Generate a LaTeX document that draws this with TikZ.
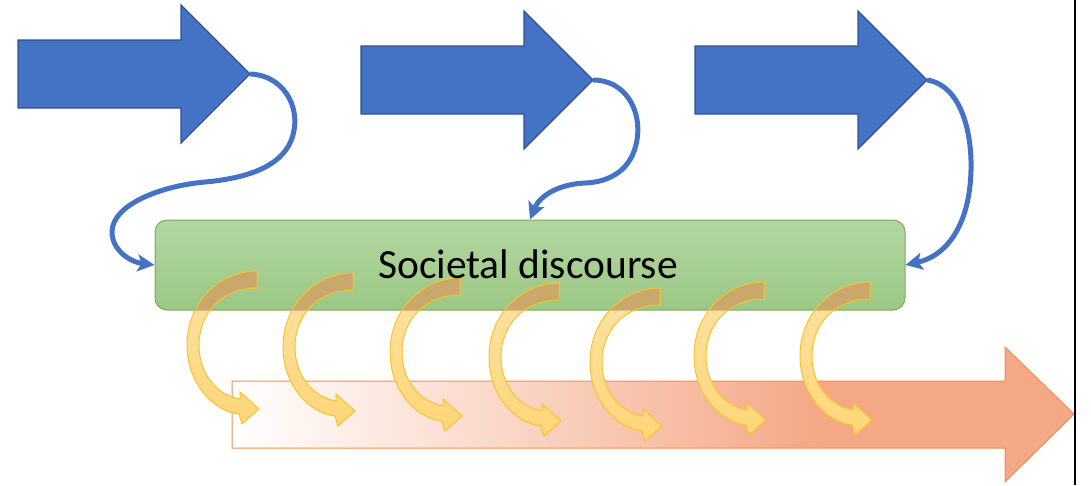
\documentclass[tikz,border=0pt]{standalone}
\usepackage{fontspec}
\setmainfont{Carlito}
\usetikzlibrary{arrows.meta}

\definecolor{bluefill}{HTML}{4472C4}
\definecolor{blueline}{HTML}{2F528F}
\definecolor{greentop}{HTML}{B3D6A1}
\definecolor{greenbot}{HTML}{9BC885}
\definecolor{greenline}{HTML}{7AAD57}
\definecolor{orangefill}{HTML}{F4A886}
\definecolor{orangeline}{HTML}{EF8E58}
\definecolor{ytan}{HTML}{CAA86C}
\definecolor{ylight}{HTML}{FFE3A6}
\definecolor{ydeep}{HTML}{FFD678}
\definecolor{yline}{HTML}{F8C22E}

% white on the left, full orange from about three quarters of the way
\pgfdeclarehorizontalshading{orangefade}{100bp}{color(0bp)=(white); color(25bp)=(white); color(60bp)=(orangefill); color(100bp)=(orangefill)}

% curved yellow arrow, origin at the upper corner of its tail
\def\bendarrow{(0,0) .. controls (-38,0) and (-70,32) .. (-70,74)
  .. controls (-70,111) and (-45,140) .. (-18,143)
  -- (-15,153) -- (2,138) -- (-17,121) -- (-17,128)
  .. controls (-40,124) and (-58,103) .. (-58,74)
  .. controls (-58,42) and (-35,17) .. (0,17) -- cycle}

\tikzset{
  bluearrow/.style={fill=bluefill, draw=blueline, line width=1.2pt, line join=miter},
  conn/.style={draw=bluefill, line width=5pt,
    -{Stealth[length=17pt, width=17pt, inset=4pt]}},
  discbox/.style={rounded corners=12pt, minimum width=750pt, minimum height=90pt,
    top color=greentop, bottom color=greenbot, draw=greenline, line width=1pt}
}

\begin{document}
\begin{tikzpicture}[x=1pt, y=-1pt]
\useasboundingbox (0,0) rectangle (1091,485);

% progress arrow along the bottom
\shadedraw[shading=orangefade, draw=orangeline, line width=1pt]
  (232,381) -- (1005,381) -- (1005,347) -- (1074,414) -- (1005,482)
  -- (1005,448) -- (232,448) -- cycle;

% three input arrows
\coordinate (tipA) at (250,74);
\coordinate (tipB) at (593,80);
\coordinate (tipC) at (927,80);
\draw[bluearrow] (18,40) -- (181,40) -- (181,5) -- (tipA) -- (181,143) -- (181,108) -- (18,108) -- cycle;
\draw[bluearrow] (361,46) -- (524,46) -- (524,11) -- (tipB) -- (524,149) -- (524,114) -- (361,114) -- cycle;
\draw[bluearrow] (695,46) -- (858,46) -- (858,11) -- (tipC) -- (858,149) -- (858,114) -- (695,114) -- cycle;

% societal discourse box
\node[discbox] (disc) at (530,265) {};

% curved arrows from the discourse down into the progress arrow
\foreach \dx/\dy in {257/271, 353/273, 460/278, 559/283, 660/288, 764/282, 870/282}{
  \begin{scope}[shift={(\dx,\dy)}]
    \path[top color=ylight, bottom color=ydeep] \bendarrow;
    \begin{scope}
      \clip[rounded corners=12pt] (disc.south west) rectangle (disc.north east);
      \fill[ytan] \bendarrow;
    \end{scope}
    \draw[yline, line width=1pt, line join=miter] \bendarrow;
  \end{scope}
}

\node[font=\fontsize{41.5}{50}\selectfont, anchor=base] (disclabel) at (528,278) {Societal discourse};

% connectors from the arrow tips to the box
\draw[conn] (tipA) .. controls (282,75) and (301,105) .. (293,135)
  .. controls (285,165) and (250,178) .. (205,182)
  .. controls (160,186) and (112,205) .. (112,232)
  .. controls (112,250) and (130,262) .. (disc.west);
\draw[conn] (tipB) .. controls (625,80) and (642,110) .. (637,140)
  .. controls (632,170) and (610,182) .. (585,183)
  .. controls (560,184) and (540,195) .. (disc.north);
\draw[conn] (tipC) .. controls (960,85) and (972,130) .. (971,170)
  .. controls (970,220) and (950,255) .. (disc.east);

% frame edge on the right
\draw[line width=2.6pt] (1075,0) -- (1075,485);
\end{tikzpicture}
\end{document}
